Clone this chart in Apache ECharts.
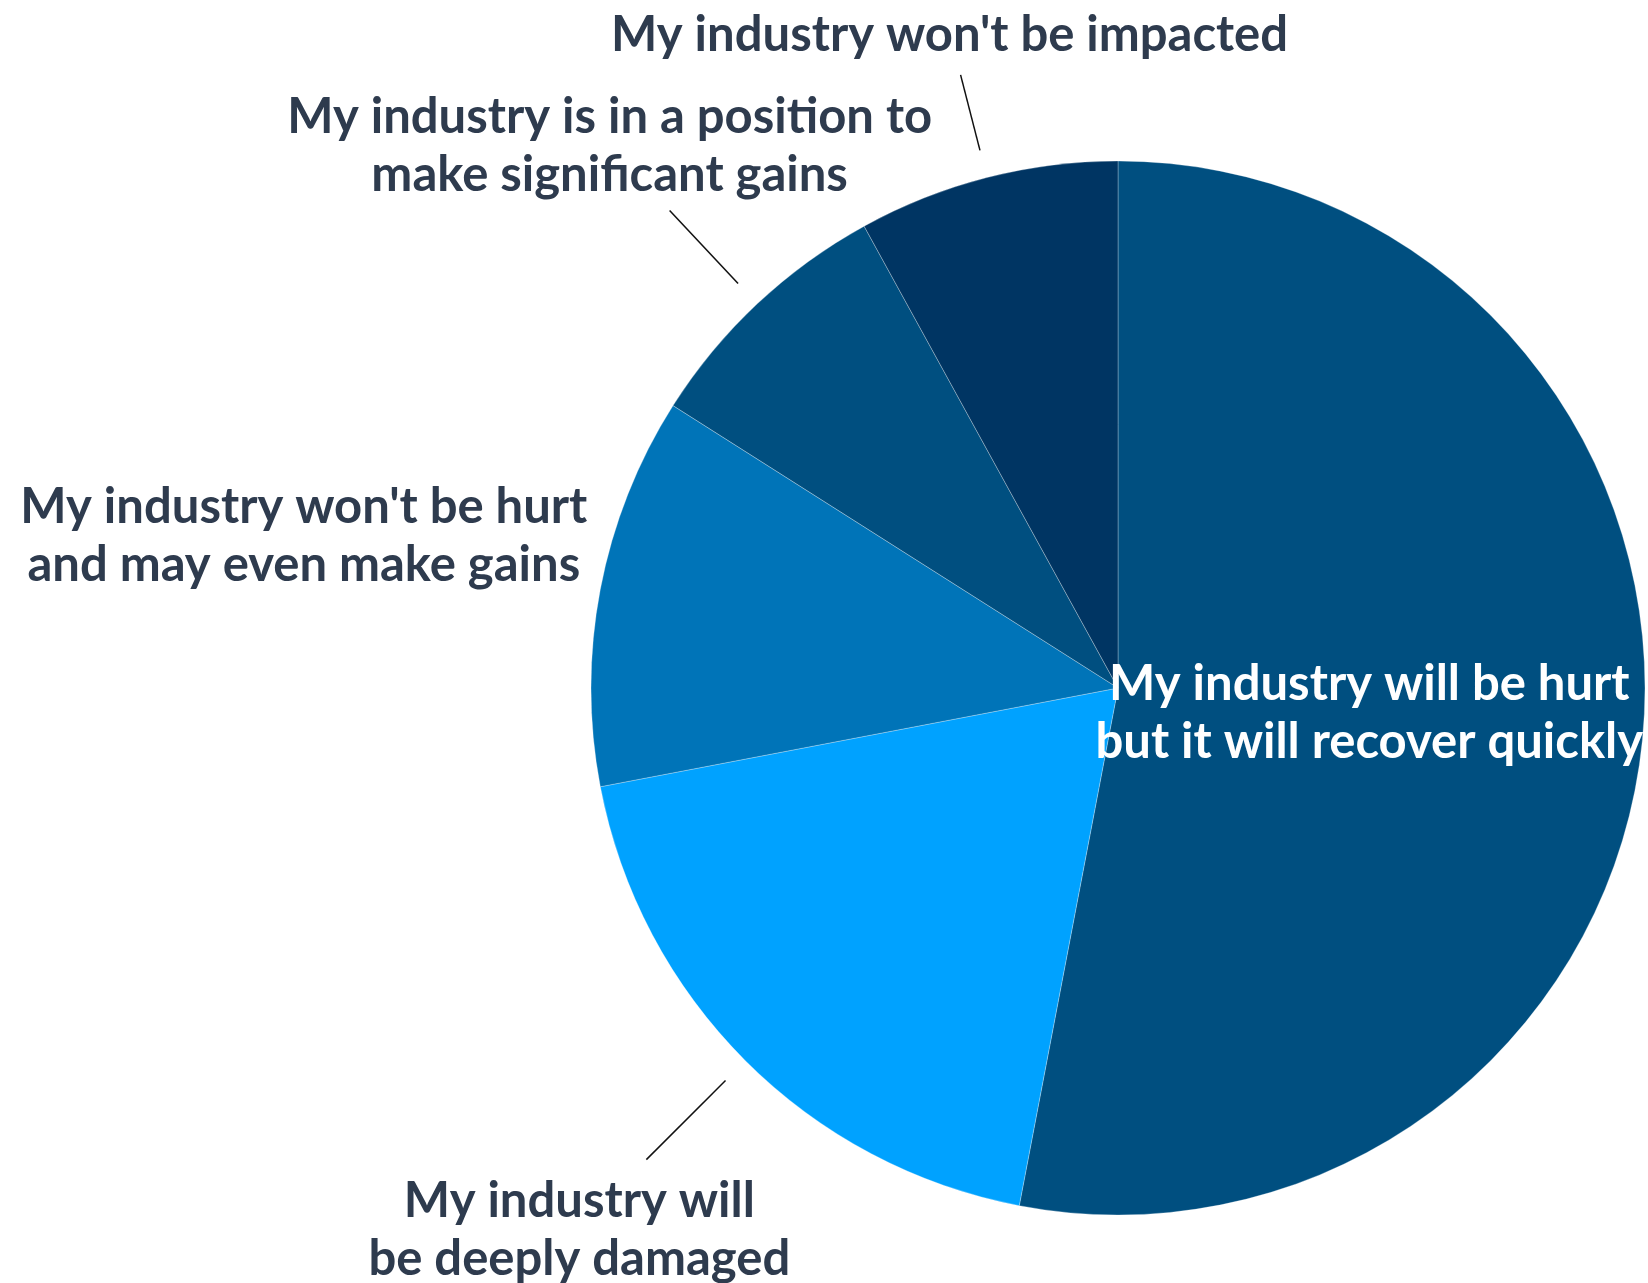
<!DOCTYPE html>
<html>
<head>
<meta charset="utf-8">
<script src="https://cdn.jsdelivr.net/npm/echarts@6/dist/echarts.min.js"></script>
<style>
  html, body { margin: 0; padding: 0; background: #ffffff; }
  #chart { width: 1648px; height: 1283px; }
</style>
</head>
<body>
<div id="chart"></div>
<script>
// Survey answers, clockwise from 12 o'clock
const categories = [
  'My industry will be hurt\nbut it will recover quickly',
  'My industry will\nbe deeply damaged',
  "My industry won't be hurt\nand may even make gains",
  'My industry is in a position to\nmake significant gains',
  "My industry won't be impacted"
];
// share of respondents, %
const shares = [53, 19, 12, 8, 8];

// styling per answer
const sliceColors = ['#004f80', '#00a2ff', '#0074b8', '#004f80', '#003563'];
const leaderLengths = [0, 112, 0, 100, 78];          // 0 = no visible leader
const labelOffsets = [[0, 0], [-67, 71], [-269, -48], [-60, -64], [-11, -40]]; // from leader end

const CENTER = [1118, 688];
const RADIUS = 527;
const LABEL_RING = 555;   // leaders start a little outside the pie
const TEXT_COLOR = '#2e3b4e';
const FONT = 'Lato, "Open Sans", sans-serif';

const textStyle = {
  fontFamily: FONT,
  fontWeight: 'bold',
  fontSize: 49,
  lineHeight: 58
};

const chart = echarts.init(document.getElementById('chart'), null, { renderer: 'canvas' });

const sliceData = categories.map((name, i) => ({
  name: name,
  value: shares[i],
  itemStyle: { color: sliceColors[i] },
  label: { show: i === 0 }
}));

const labelData = categories.map((name, i) => ({
  name: name,
  value: shares[i],
  label: { show: i !== 0 },
  labelLine: {
    show: i !== 0,
    length: leaderLengths[i],
    lineStyle: { opacity: leaderLengths[i] > 0 ? 1 : 0 }
  }
}));

chart.setOption({
  animation: false,
  backgroundColor: '#ffffff',
  series: [
    {
      type: 'pie',
      center: CENTER,
      radius: RADIUS,
      startAngle: 90,
      clockwise: true,
      silent: true,
      data: sliceData,
      itemStyle: { borderColor: 'rgba(255,255,255,0.35)', borderWidth: 0.8 },
      label: Object.assign({ position: 'inside', formatter: '{b}', color: '#ffffff' }, textStyle),
      labelLine: { show: false },
      labelLayout: function (p) {
        if (p.dataIndex !== 0) return {};
        return {
          x: p.labelRect.x + p.labelRect.width / 2 - 14,
          y: p.labelRect.y + p.labelRect.height / 2,
          align: 'center',
          verticalAlign: 'middle'
        };
      }
    },
    {
      // transparent ring that carries the outside labels and their leaders
      type: 'pie',
      center: CENTER,
      radius: LABEL_RING,
      startAngle: 90,
      clockwise: true,
      silent: true,
      avoidLabelOverlap: false,
      data: labelData,
      itemStyle: { color: 'rgba(0,0,0,0)', borderWidth: 0 },
      label: Object.assign({ position: 'outside', formatter: '{b}', color: TEXT_COLOR }, textStyle),
      labelLine: { length2: 0, lineStyle: { color: '#111111', width: 1.5 } },
      labelLayout: function (p) {
        if (!p.labelLinePoints) return {};
        const end = p.labelLinePoints[2];
        const off = labelOffsets[p.dataIndex];
        return {
          x: end[0] + off[0],
          y: end[1] + off[1],
          align: 'center',
          verticalAlign: 'middle',
          labelLinePoints: p.labelLinePoints
        };
      }
    }
  ]
});
</script>
</body>
</html>
